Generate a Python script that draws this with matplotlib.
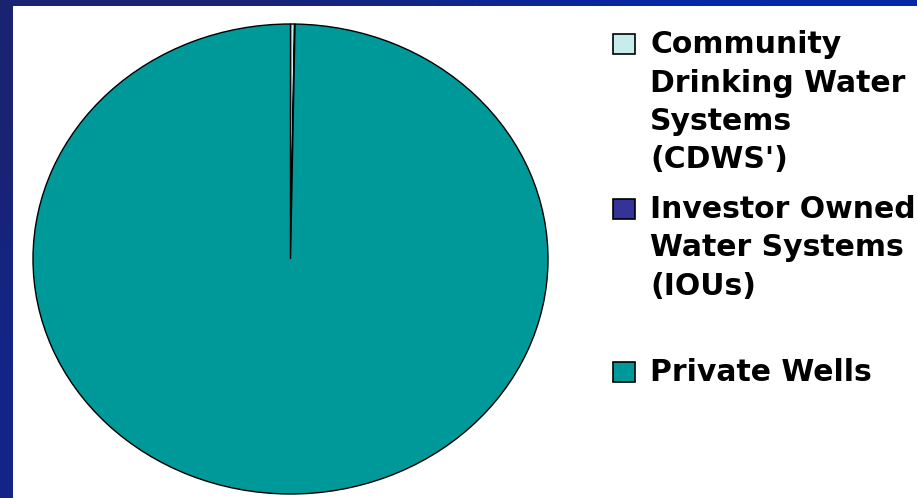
import numpy as np
import matplotlib.pyplot as plt
from matplotlib.patches import Rectangle

# share of systems (percent)
labels = ["Community\nDrinking Water\nSystems\n(CDWS')",
          "Investor Owned\nWater Systems\n(IOUs)",
          "Private Wells"]
values = [0.25, 0.03, 99.72]
colors = ["#c6ecec", "#333399", "#009999"]

W, H = 917, 498
fig = plt.figure(figsize=(W / 100, H / 100), dpi=100, facecolor="#0a26a0")

# blue slide background: darker navy top-left, brighter blue elsewhere
bg = fig.add_axes([0, 0, 1, 1])
dark = np.array([0x1a, 0x23, 0x72]) / 255
bright = np.array([0x06, 0x28, 0xa8]) / 255
grad = np.array([[dark, bright], [dark * 0.6 + bright * 0.4, bright]])
bg.imshow(grad, aspect="auto", interpolation="bilinear", extent=[0, 1, 0, 1])
bg.axis("off")

# white slide panel
panel = fig.add_axes([13 / W, 0, 1 - 13 / W, 1 - 6 / H])
panel.set_facecolor("white")
panel.set_xticks([])
panel.set_yticks([])
for s in panel.spines.values():
    s.set_visible(False)

# pie is stretched horizontally in the original, so keep aspect auto
ax = fig.add_axes([33 / W, 4 / H, 515 / W, 470 / H])
ax.pie(values, colors=colors, startangle=90, counterclock=False,
       wedgeprops=dict(edgecolor="black", linewidth=1.0))
ax.set_aspect("auto")
ax.set_xlim(-1, 1)
ax.set_ylim(-1, 1)
ax.axis("off")

# hand-placed legend (one square + bold label per entry)
first_base = [53, 218, 381]   # pixel y of the first baseline of each entry
line_h = 38.5
for lab, col, y0 in zip(labels, colors, first_base):
    fig.patches.append(Rectangle((613 / W, 1 - (y0 + 1) / H), 22 / W, 20 / H,
                                 transform=fig.transFigure, facecolor=col,
                                 edgecolor="black", linewidth=1.2))
    for i, line in enumerate(lab.split("\n")):
        fig.text(650 / W, 1 - (y0 + i * line_h) / H, line, ha="left", va="baseline",
                 fontsize=21.5, fontweight="bold", family="DejaVu Sans",
                 color="black")

fig.savefig("out.png", dpi=100, facecolor=fig.get_facecolor())
